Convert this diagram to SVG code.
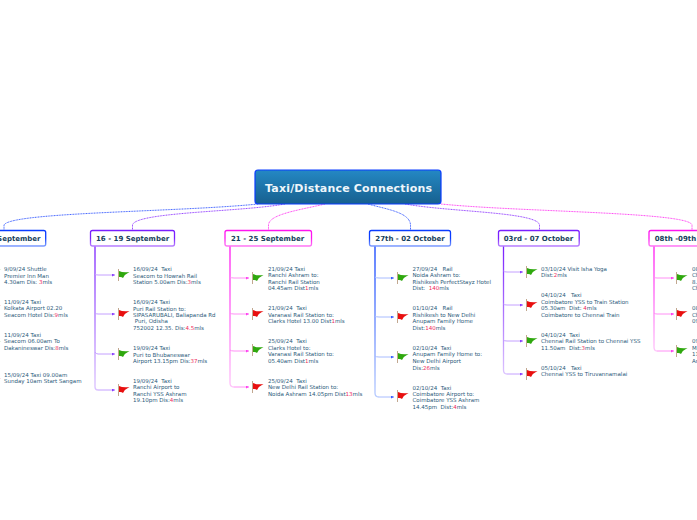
<svg xmlns="http://www.w3.org/2000/svg" width="697" height="520" viewBox="0 0 697 520">
<style>
text{font-family:"DejaVu Sans",Verdana,sans-serif;white-space:pre}
.t{font-size:5.5px;fill:#2b5a7a}
.t tspan.r{fill:#ee2a5c}
.h{font-size:7px;font-weight:bold;fill:#153e5c}
.d{fill:none;stroke-width:.9;stroke-dasharray:1 .6}
.n{fill:#fff;stroke-width:1.3}
.gf{fill:#2fa80e}.rf{fill:#e80f0f}
.p{stroke:#c2a890;stroke-width:1;fill:none}
.tr{fill:none;stroke-width:1.3}
.b1{stroke:#a8bcff;fill:none;stroke-width:1}
.b2{stroke:#c4a0ff;fill:none;stroke-width:1}
.b3{stroke:#ff90f5;fill:none;stroke-width:1}
</style>
<defs>
<linearGradient id="cg" x1="0" y1="0" x2="0" y2="1"><stop offset="0" stop-color="#2488c4"/><stop offset="1" stop-color="#17608f"/></linearGradient>
<linearGradient id="b1" x1="0" y1="0" x2="0" y2="1"><stop offset="0" stop-color="#0a3cff"/><stop offset="1" stop-color="#b8ccff"/></linearGradient>
<linearGradient id="b2" x1="0" y1="0" x2="0" y2="1"><stop offset="0" stop-color="#7a1fff"/><stop offset="1" stop-color="#dcc4ff"/></linearGradient>
<linearGradient id="b3" x1="0" y1="0" x2="0" y2="1"><stop offset="0" stop-color="#ff14f0"/><stop offset="1" stop-color="#ffc4fa"/></linearGradient>
<linearGradient id="s1" x1="0" y1="0" x2="0" y2="1"><stop offset=".5" stop-color="#0a3cff"/><stop offset="1" stop-color="#7e9cff"/></linearGradient>
<linearGradient id="s2" x1="0" y1="0" x2="0" y2="1"><stop offset=".5" stop-color="#7a1fff"/><stop offset="1" stop-color="#b880ff"/></linearGradient>
<linearGradient id="s3" x1="0" y1="0" x2="0" y2="1"><stop offset=".5" stop-color="#ff14f0"/><stop offset="1" stop-color="#ff78f5"/></linearGradient>
<marker id="a1" markerWidth="4" markerHeight="4" refX="3" refY="1.5" orient="auto" markerUnits="userSpaceOnUse"><path d="M0 0L3 1.5L0 3z" fill="#3a5cff"/></marker>
<marker id="a2" markerWidth="4" markerHeight="4" refX="3" refY="1.5" orient="auto" markerUnits="userSpaceOnUse"><path d="M0 0L3 1.5L0 3z" fill="#8a40ff"/></marker>
<marker id="a3" markerWidth="4" markerHeight="4" refX="3" refY="1.5" orient="auto" markerUnits="userSpaceOnUse"><path d="M0 0L3 1.5L0 3z" fill="#ff40f0"/></marker>
<g id="fg"><path class="p" d="M.5 0V12"/><path class="gf" d="M1 2Q5 4 11.500 3Q7 5 5 9Q3.500 7.500 1 8z"/></g>
<g id="fr"><path class="p" d="M.5 0V12"/><path class="rf" d="M1 2Q5 4 11.500 3Q7 5 5 9Q3.500 7.500 1 8z"/></g>
</defs>
<g id="connectors">
<path class="d" stroke="#2a50ff" d="M258 204C180 212 10 212 4 225V230"/>
<path class="d" stroke="#8a30ff" d="M285 204C240 212 135 212 132.500 225V230"/>
<path class="d" stroke="#ff30f0" d="M325 204C300 210 269 214 268.500 225V230"/>
<path class="d" stroke="#2a50ff" d="M368 204C385 209 410 212 410.500 225V230"/>
<path class="d" stroke="#8a30ff" d="M405 204C450 212 538 212 539.500 225V230"/>
<path class="d" stroke="#ff30f0" d="M441 204C520 212 690 212 692 225V230"/>
<path class="tr" d="M95 246V387Q95 390 98 390" stroke="url(#b2)"/>
<path class="tr" d="M230 246V383Q230 387 234 387" stroke="url(#b3)"/>
<path class="tr" d="M375 246V393Q375 397 379 397" stroke="url(#b1)"/>
<path class="tr" d="M503.500 246V370Q503.500 374 507 374" stroke="url(#b2)"/>
<path class="tr" d="M654 246V347Q654 351 657 351" stroke="url(#b3)"/>
<path class="b2" d="M95 274Q96 275 98 275H115" marker-end="url(#a2)"/><path class="b2" d="M95 313Q96 314 98 314H115" marker-end="url(#a2)"/><path class="b2" d="M95 352Q96 354 98 354H115" marker-end="url(#a2)"/><path class="b2" d="M98 390H115" marker-end="url(#a2)"/>
<path class="b2" d="M503.500 271Q504 272 507 272H523" marker-end="url(#a2)"/><path class="b2" d="M503.500 304Q504 305 507 305H523" marker-end="url(#a2)"/><path class="b2" d="M503.500 340Q504 341 507 341H523" marker-end="url(#a2)"/><path class="b2" d="M507 374H523" marker-end="url(#a2)"/>
<path class="b3" d="M230 277Q231 278 234 278H249" marker-end="url(#a3)"/><path class="b3" d="M230 313Q231 314 234 314H249" marker-end="url(#a3)"/><path class="b3" d="M230 350Q231 351 234 351H249" marker-end="url(#a3)"/><path class="b3" d="M234 387H249" marker-end="url(#a3)"/>
<path class="b3" d="M654 277Q655 278 657 278H674" marker-end="url(#a3)"/><path class="b3" d="M654 313Q655 314 657 314H674" marker-end="url(#a3)"/><path class="b3" d="M657 351H674" marker-end="url(#a3)"/>
<path class="b1" d="M375 277Q376 278 379 278H394" marker-end="url(#a1)"/><path class="b1" d="M375 316Q376 317 379 317H394" marker-end="url(#a1)"/><path class="b1" d="M375 356Q376 357 379 357H394" marker-end="url(#a1)"/><path class="b1" d="M379 397H394" marker-end="url(#a1)"/>
</g>
<g id="center"><rect x="255" y="170" width="186" height="34" rx="3" fill="url(#cg)" stroke="#0a3cff" stroke-width="1.2"/><text x="265" y="192" textLength="167" font-size="11" font-weight="bold" fill="#eef6fb">Taxi/Distance Connections</text></g>
<g id="n1"><rect class="n" x="-40" y="230.500" width="85.700" height="15.500" rx="2" stroke="url(#s1)"/><text class="h" x="40.500" y="240.800" text-anchor="end">September</text></g>
<g id="n2"><rect class="n" x="90.500" y="230.500" width="84" height="15.500" rx="2" stroke="url(#s2)"/><text class="h" x="96" y="240.800">16 - 19 September</text></g>
<g id="n3"><rect class="n" x="225" y="230.500" width="86.500" height="15.500" rx="2" stroke="url(#s3)"/><text class="h" x="231" y="240.800">21 - 25 September</text></g>
<g id="n4"><rect class="n" x="369.500" y="230.500" width="81" height="15.500" rx="2" stroke="url(#s1)"/><text class="h" x="375.300" y="240.800">27th - 02 October</text></g>
<g id="n5"><rect class="n" x="498.500" y="230.500" width="80.700" height="15.500" rx="2" stroke="url(#s2)"/><text class="h" x="503.700" y="240.800">03rd - 07 October</text></g>
<g id="n6"><rect class="n" x="649" y="230.500" width="90" height="15.500" rx="2" stroke="url(#s3)"/><text class="h" x="654.700" y="240.800">08th -09th</text></g>
<g id="col1">
<use href="#fg" x="-10.500" y="266"/><use href="#fr" x="-10.500" y="302"/><use href="#fg" x="-10.500" y="338"/><use href="#fr" x="-10.500" y="375"/>
<text class="t" x="4" y="271">9/09/24 Shuttle</text><text class="t" x="4" y="277.500">Premier Inn Man</text><text class="t" x="4" y="284">4.30am Dis: <tspan class="r">3</tspan>mls</text>
<text class="t" x="4" y="304">11/09/24 Taxi</text><text class="t" x="4" y="310">Kolkata Airport 02.20</text><text class="t" x="4" y="317">Seacom Hotel Dis:<tspan class="r">9</tspan>mls</text>
<text class="t" x="4" y="337">11/09/24 Taxi</text><text class="t" x="4" y="343">Seacom 06.00am To</text><text class="t" x="4" y="350">Dakanineswar Dis:<tspan class="r">8</tspan>mls</text>
<text class="t" x="4" y="376.500">15/09/24 Taxi 09.00am</text><text class="t" x="4" y="383">Sunday 10am Start Sangam</text>
</g>
<g id="col2">
<use href="#fg" x="118" y="269"/><use href="#fr" x="118" y="308"/><use href="#fg" x="118" y="348"/><use href="#fr" x="118" y="384"/>
<text class="t" x="133" y="271">16/09/24  Taxi</text><text class="t" x="133" y="277.500">Seacom to Howrah Rail</text><text class="t" x="133" y="284">Station 5.00am Dis:<tspan class="r">3</tspan>mls</text>
<text class="t" x="133" y="304">16/09/24 Taxi</text><text class="t" x="133" y="310.500">Puri Rail Station to:</text><text class="t" x="133" y="317">SIPASARUBALI, Baliapanda Rd</text><text class="t" x="133" y="323"> Puri, Odisha</text><text class="t" x="133" y="330">752002 12.35. Dis:<tspan class="r">4.5</tspan>mls</text>
<text class="t" x="133" y="350">19/09/24 Taxi</text><text class="t" x="133" y="356.500">Puri to Bhubaneswar</text><text class="t" x="133" y="363">Airport 13.15pm Dis:<tspan class="r">37</tspan>mls</text>
<text class="t" x="133" y="383">19/09/24  Taxi</text><text class="t" x="133" y="389">Ranchi Airport to</text><text class="t" x="133" y="396">Ranchi YSS Ashram</text><text class="t" x="133" y="402">19.10pm Dis:<tspan class="r">4</tspan>mls</text>
</g>
<g id="col3">
<use href="#fg" x="252" y="272"/><use href="#fr" x="252" y="308"/><use href="#fg" x="252" y="344"/><use href="#fr" x="252" y="381"/>
<text class="t" x="268" y="271">21/09/24 Taxi</text><text class="t" x="268" y="277">Ranchi Ashram to:</text><text class="t" x="268" y="284">Ranchi Rail Station</text><text class="t" x="268" y="290">04.45am Dist<tspan class="r">1</tspan>mls</text>
<text class="t" x="268" y="310">21/09/24  Taxi</text><text class="t" x="268" y="317">Varanasi Rail Station to:</text><text class="t" x="268" y="323">Clarks Hotel 13.00 Dist<tspan class="r">1</tspan>mls</text>
<text class="t" x="268" y="343">25/09/24  Taxi</text><text class="t" x="268" y="349.500">Clarks Hotel to:</text><text class="t" x="268" y="356">Varanasi Rail Station to:</text><text class="t" x="268" y="363">05.40am Dist<tspan class="r">1</tspan>mls</text>
<text class="t" x="268" y="383">25/09/24  Taxi</text><text class="t" x="268" y="389">New Delhi Rail Station to:</text><text class="t" x="268" y="396">Noida Ashram 14.05pm Dist<tspan class="r">13</tspan>mls</text>
</g>
<g id="col4">
<use href="#fg" x="397" y="272"/><use href="#fr" x="397" y="311"/><use href="#fg" x="397" y="351"/><use href="#fr" x="397" y="390"/>
<text class="t" x="412.500" y="271">27/09/24   Rail</text><text class="t" x="412.500" y="277">Noida Ashram to:</text><text class="t" x="412.500" y="284">Rishikesh PerfectStayz Hotel</text><text class="t" x="412.500" y="290">Dist:  <tspan class="r">140</tspan>mls</text>
<text class="t" x="412.500" y="310">01/10/24   Rail</text><text class="t" x="412.500" y="317">Rishikesh to New Delhi</text><text class="t" x="412.500" y="323">Anupam Family Home</text><text class="t" x="412.500" y="330">Dist:<tspan class="r">140</tspan>mls</text>
<text class="t" x="412.500" y="350">02/10/24  Taxi</text><text class="t" x="412.500" y="356">Anupam Family Home to:</text><text class="t" x="412.500" y="363">New Delhi Airport</text><text class="t" x="412.500" y="369.500">Dis:<tspan class="r">26</tspan>mls</text>
<text class="t" x="412.500" y="389.500">02/10/24  Taxi</text><text class="t" x="412.500" y="396">Coimbatore Airport to:</text><text class="t" x="412.500" y="402">Coimbatore YSS Ashram</text><text class="t" x="412.500" y="409">14.45pm  Dist:<tspan class="r">4</tspan>mls</text>
</g>
<g id="col5">
<use href="#fg" x="526" y="266"/><use href="#fr" x="526" y="299"/><use href="#fg" x="526" y="335"/><use href="#fr" x="526" y="368"/>
<text class="t" x="541" y="271">03/10/24 Visit Isha Yoga</text><text class="t" x="541" y="277">Dist:<tspan class="r">2</tspan>mls</text>
<text class="t" x="541" y="297">04/10/24   Taxi</text><text class="t" x="541" y="304">Coimbatore YSS to Train Station</text><text class="t" x="541" y="310">05.30am  Dist: <tspan class="r">4</tspan>mls</text><text class="t" x="541" y="317">Coimbatore to Chennai Train</text>
<text class="t" x="541" y="337">04/10/24  Taxi</text><text class="t" x="541" y="343">Chennai Rail Station to Chennai YSS</text><text class="t" x="541" y="350">11.50am  Dist:<tspan class="r">3</tspan>mls</text>
<text class="t" x="541" y="370">05/10/24   Taxi</text><text class="t" x="541" y="376">Chennai YSS to Tiruvannamalai</text>
</g>
<g id="col6">
<use href="#fg" x="676" y="272"/><use href="#fr" x="676" y="308"/><use href="#fg" x="676" y="345"/>
<text class="t" x="692" y="271">08</text><text class="t" x="692" y="277">Ch</text><text class="t" x="692" y="284">8.</text><text class="t" x="692" y="290">Ch</text>
<text class="t" x="692" y="310">08</text><text class="t" x="692" y="317">Ch</text><text class="t" x="692" y="323">09</text>
<text class="t" x="692" y="343">09</text><text class="t" x="692" y="349.500">Mu</text><text class="t" x="692" y="356">11</text><text class="t" x="692" y="363">An</text>
</g>
</svg>
